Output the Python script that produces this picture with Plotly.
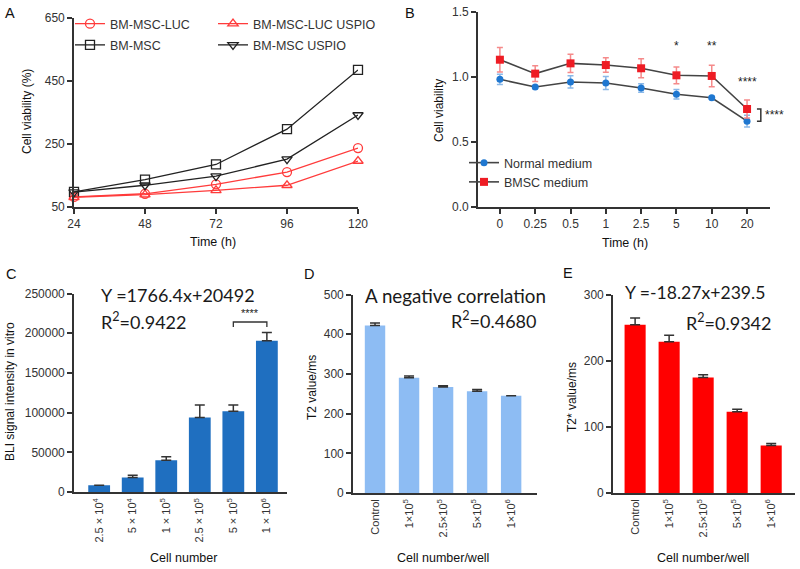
import plotly.graph_objects as go

# ---------------- data ----------------
a_time = [24, 48, 72, 96, 120]
a_luc = [82, 92, 122, 161, 237]
a_luc_uspio = [81, 89, 103, 119, 196]
a_msc = [98, 137, 185, 297, 485]
a_msc_uspio = [97, 119, 148, 202, 342]

b_labels = ["0", "0.25", "0.5", "1", "2.5", "5", "10", "20"]
b_normal = [0.982, 0.923, 0.962, 0.954, 0.915, 0.867, 0.84, 0.66]
b_normal_err = [0.04, 0.012, 0.047, 0.05, 0.033, 0.036, 0.012, 0.045]
b_bmsc = [1.133, 1.026, 1.105, 1.092, 1.067, 1.013, 1.008, 0.754]
b_bmsc_err = [0.094, 0.06, 0.07, 0.056, 0.073, 0.064, 0.083, 0.07]
b_stars = ["", "", "", "", "", "*", "**", "****"]

c_labels = ["2.5 × 10<sup>4</sup>", "5 × 10<sup>4</sup>", "1 × 10<sup>5</sup>",
            "2.5 × 10<sup>5</sup>", "5 × 10<sup>5</sup>", "1 × 10<sup>6</sup>"]
c_vals = [8400, 18300, 40000, 93700, 101600, 190600]
c_err = [0, 2700, 4500, 16000, 8100, 10400]

d_labels = ["Control", "1×10<sup>5</sup>", "2.5×10<sup>5</sup>", "5×10<sup>5</sup>", "1×10<sup>6</sup>"]
d_vals = [422, 290, 267, 256, 245]
d_err = [6, 5, 3, 5, 0]

e_labels = ["Control", "1×10<sup>5</sup>", "2.5×10<sup>5</sup>", "5×10<sup>5</sup>", "1×10<sup>6</sup>"]
e_vals = [255, 229, 175, 123, 72]
e_err = [10, 10, 4, 4, 3]

W, H = 800, 569
FONT = "Liberation Sans, Arial, sans-serif"
EQF = "Lato, Open Sans, sans-serif"
AX = "#333333"


def px(x):
    return x / W


def py(y):
    return 1 - y / H


fig = go.Figure()

RED = "#ff3b3b"
BLK = "#222222"
# ---------------- panel A ----------------
a_series = [
    ("BM-MSC-LUC", a_luc, RED, "circle-open", "legend"),
    ("BM-MSC", a_msc, BLK, "square-open", "legend"),
    ("BM-MSC-LUC USPIO", a_luc_uspio, RED, "triangle-up-open", "legend3"),
    ("BM-MSC USPIO", a_msc_uspio, BLK, "triangle-down-open", "legend3"),
]
for name, vals, col, sym, lg in a_series:
    fig.add_trace(go.Scatter(
        x=a_time, y=vals, name=name, mode="lines+markers", legendgroup=name,
        line=dict(color=col, width=1.3),
        marker=dict(symbol=sym, size=9, color=col, line=dict(width=1.3, color=col)),
        xaxis="x", yaxis="y", legend=lg, cliponaxis=False))

# ---------------- panel B ----------------
bx = list(range(len(b_labels)))
fig.add_trace(go.Scatter(
    x=bx, y=b_normal, name="Normal medium", mode="lines+markers",
    line=dict(color="#444444", width=1.6),
    marker=dict(symbol="circle", size=7, color="#1f77d0"),
    error_y=dict(type="data", array=b_normal_err, color="#8ab8e8", thickness=1.5, width=3),
    xaxis="x2", yaxis="y2", legend="legend2", cliponaxis=False))
fig.add_trace(go.Scatter(
    x=bx, y=b_bmsc, name="BMSC medium", mode="lines+markers",
    line=dict(color="#444444", width=1.6),
    marker=dict(symbol="square", size=8, color="#ee1c24"),
    error_y=dict(type="data", array=b_bmsc_err, color="#f58a8a", thickness=1.5, width=3),
    xaxis="x2", yaxis="y2", legend="legend2", cliponaxis=False))

# ---------------- panel C ----------------
cx = list(range(len(c_labels)))
fig.add_trace(go.Bar(
    x=cx, y=c_vals, width=0.65, marker=dict(color="#1f6fc0", line=dict(width=0)),
    error_y=dict(type="data", symmetric=False, array=c_err, arrayminus=[0] * len(c_err),
                 color="#333333", thickness=1.5, width=5),
    xaxis="x3", yaxis="y3", showlegend=False))

# ---------------- panel D ----------------
dx = list(range(len(d_labels)))
fig.add_trace(go.Bar(
    x=dx, y=d_vals, width=0.6, marker=dict(color="#8dbcf3", line=dict(width=0)),
    error_y=dict(type="data", symmetric=False, array=d_err, arrayminus=[0] * len(d_err),
                 color="#333333", thickness=1.5, width=5),
    xaxis="x4", yaxis="y4", showlegend=False))

# ---------------- panel E ----------------
ex = list(range(len(e_labels)))
fig.add_trace(go.Bar(
    x=ex, y=e_vals, width=0.62, marker=dict(color="#ff0000", line=dict(width=0)),
    error_y=dict(type="data", symmetric=False, array=e_err, arrayminus=[0] * len(e_err),
                 color="#333333", thickness=1.5, width=5),
    xaxis="x5", yaxis="y5", showlegend=False))

tickfont = dict(family=FONT, size=12, color=AX)
smallfont = dict(family=FONT, size=11, color=AX)


def xax(dom, rng, anchor, **kw):
    d = dict(domain=dom, range=rng, anchor=anchor, showline=True, linecolor=AX, linewidth=1.6,
             showgrid=False, zeroline=False, tickfont=tickfont, fixedrange=True)
    d.update(kw)
    return d


def yax(dom, rng, anchor, **kw):
    d = dict(domain=dom, range=rng, anchor=anchor, showline=True, linecolor=AX, linewidth=1.6,
             showgrid=False, zeroline=False, tickfont=tickfont, ticks="outside", ticklen=5,
             tickcolor=AX, tickwidth=1.5, fixedrange=True)
    d.update(kw)
    return d


legfont = dict(family=FONT, size=12.5, color=AX)
fig.update_layout(
    width=W, height=H, margin=dict(l=0, r=0, t=0, b=0, autoexpand=False),
    paper_bgcolor="white", plot_bgcolor="white",
    font=dict(family=FONT, size=12, color=AX),
    # A
    xaxis=xax([px(74), px(358)], [24, 120], "y", tickvals=a_time, ticks="outside",
              ticklen=5, tickcolor=AX, tickwidth=1.5),
    yaxis=yax([py(207), py(18)], [50, 650], "x", tickvals=[50, 250, 450, 650]),
    # B
    xaxis2=xax([px(478), px(770)], [-0.62, 7.65], "y2", tickvals=bx, ticktext=b_labels,
               ticks="outside", ticklen=5, tickcolor=AX, tickwidth=1.5),
    yaxis2=yax([py(207), py(12)], [0, 1.5], "x2", tickvals=[0, 0.5, 1.0, 1.5], tickformat=".1f"),
    # C
    xaxis3=xax([px(74), px(287)], [-0.75, 5.6], "y3", tickvals=cx, ticktext=c_labels,
               tickangle=-90, tickfont=smallfont, ticks=""),
    yaxis3=yax([py(492), py(293.5)], [0, 250000], "x3",
               tickvals=[0, 50000, 100000, 150000, 200000, 250000], tickformat="d"),
    # D
    xaxis4=xax([px(353), px(537)], [-0.647, 4.76], "y4", tickvals=dx, ticktext=d_labels,
               tickangle=-90, tickfont=smallfont, ticks=""),
    yaxis4=yax([py(493), py(294.5)], [0, 500], "x4", tickvals=[0, 100, 200, 300, 400, 500]),
    # E
    xaxis5=xax([px(613), px(795)], [-0.65, 4.7], "y5", tickvals=ex, ticktext=e_labels,
               tickangle=-90, tickfont=smallfont, ticks=""),
    yaxis5=yax([py(493), py(295)], [0, 300], "x5", tickvals=[0, 100, 200, 300]),
    legend=dict(x=px(70), y=py(9), xanchor="left", yanchor="top", bgcolor="rgba(0,0,0,0)",
                font=legfont, tracegroupgap=2),
    legend3=dict(x=px(213), y=py(9), xanchor="left", yanchor="top", bgcolor="rgba(0,0,0,0)",
                 font=legfont, tracegroupgap=2),
    legend2=dict(x=px(464), y=py(148), xanchor="left", yanchor="top", bgcolor="rgba(0,0,0,0)",
                 font=legfont, tracegroupgap=0),
)

ann = []


def lab(x, y, t, size=14, **kw):
    d = dict(x=px(x), y=py(y), xref="paper", yref="paper", text=t, showarrow=False,
             font=dict(family=FONT, size=size, color="#111"), xanchor="center", yanchor="middle")
    d.update(kw)
    ann.append(d)


# panel letters
lab(10, 13, "A", size=14.5)
lab(410, 13, "B", size=14.5)
lab(11, 274, "C", size=14.5)
lab(309, 274, "D", size=14.5)
lab(568, 273, "E", size=14.5)

# axis titles
lab(27, 112, "Cell viability (%)", size=12, textangle=-90)
lab(213, 242, "Time (h)", size=12.5)
lab(439, 110, "Cell viability", size=12, textangle=-90)
lab(625, 243, "Time (h)", size=12.5)
lab(10, 392, "BLI signal intensity in vitro", size=12, textangle=-90)
lab(183, 558, "Cell number", size=12.5)
lab(312, 388, "T2 value/ms", size=12, textangle=-90)
lab(443, 558, "Cell number/well", size=12.5)
lab(572, 397, "T2* value/ms", size=12, textangle=-90)
lab(703, 558, "Cell number/well", size=12.5)

# equations
EQC = "#1a1a1a"
lab(99, 295, "Y =1766.4x+20492", xanchor="left", font=dict(family=EQF, size=18, color=EQC))
lab(99, 321, "R<sup>2</sup>=0.9422", xanchor="left", font=dict(family=EQF, size=18, color=EQC))
lab(363, 295, "A negative correlation", xanchor="left", font=dict(family=EQF, size=18.8, color=EQC))
lab(538, 320, "R<sup>2</sup>=0.4680", xanchor="right", font=dict(family=EQF, size=18, color=EQC))
lab(767, 293, "Y =-18.27x+239.5", xanchor="right", font=dict(family=EQF, size=17.6, color=EQC))
lab(773, 322, "R<sup>2</sup>=0.9342", xanchor="right", font=dict(family=EQF, size=18, color=EQC))

# panel B stars
for i, s in enumerate(b_stars):
    if s:
        yv = 1.24 if len(s) < 4 else 0.96
        ann.append(dict(x=i, y=yv, xref="x2", yref="y2", text=s, showarrow=False,
                        font=dict(family=FONT, size=12, color="#222")))
ann.append(dict(x=7.45, y=(b_bmsc[-1] + b_normal[-1]) / 2, xref="x2", yref="y2", text="****",
                showarrow=False, xanchor="left", font=dict(family=FONT, size=12, color="#222")))
# panel C significance
ann.append(dict(x=4.5, y=py(313), xref="x3", yref="paper", text="****", showarrow=False,
                font=dict(family=FONT, size=11, color="#222")))

fig.update_layout(annotations=ann)

shapes = [
    # B bracket
    dict(type="path", xref="x2", yref="y2",
         path=f"M 7.28 {b_bmsc[-1]} L 7.39 {b_bmsc[-1]} L 7.39 {b_normal[-1]} L 7.28 {b_normal[-1]}",
         line=dict(color="#333", width=1.5)),
    # C bracket
    dict(type="path", xref="x3", yref="paper",
         path=f"M 4 {py(327)} L 4 {py(322)} L 5 {py(322)} L 5 {py(327)}",
         line=dict(color="#333", width=1.3)),
]
fig.update_layout(shapes=shapes)

fig.write_html("out.html", config={"displayModeBar": False},
               post_script="document.body.style.margin='0';")
